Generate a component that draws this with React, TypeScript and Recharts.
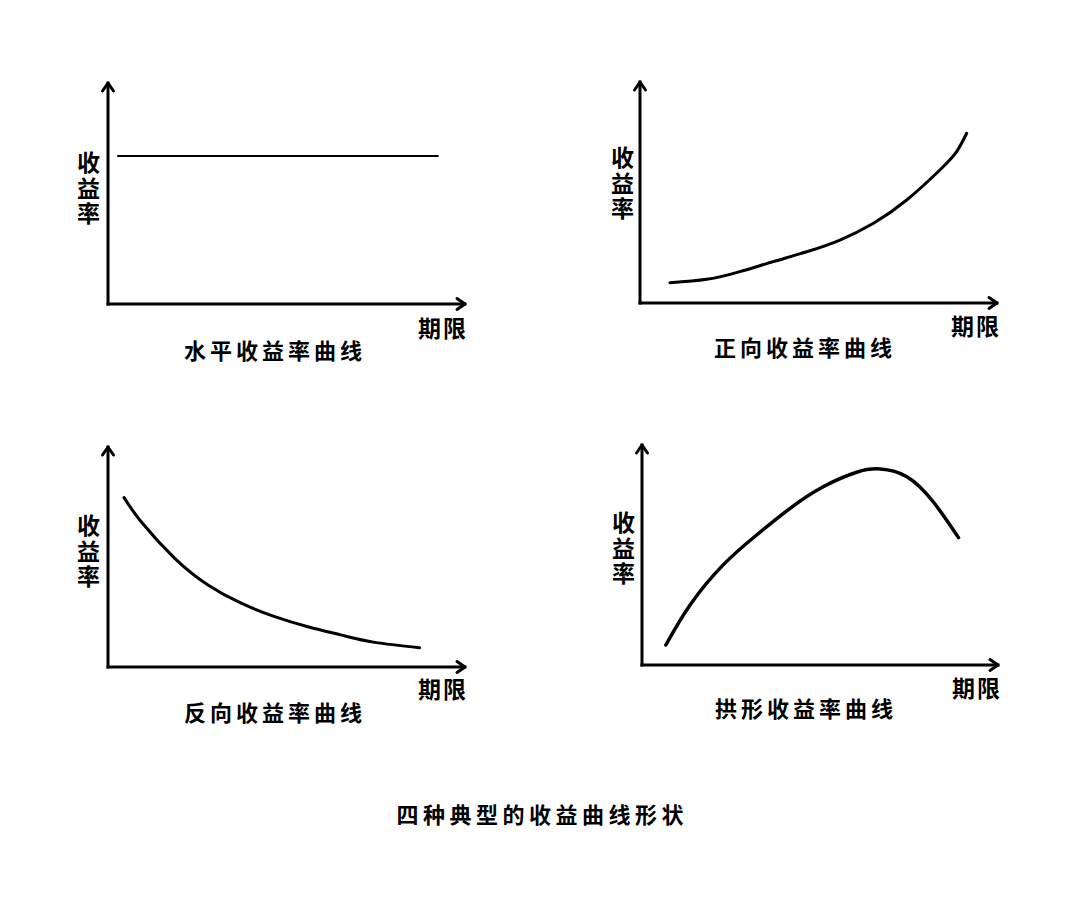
import { LineChart, Line, XAxis, YAxis, ReferenceLine } from "recharts"

// term positions (0-10 scale) and yields (0-10 scale)
const flatTerm = [0.28, 9.24]
const flatYield = [6.7, 6.7]

const normalTerm = [0.84, 1.87, 2.8, 3.73, 4.67, 5.6, 6.54, 7.47, 8.4, 8.87, 9.15]
const normalYield = [0.92, 1.07, 1.42, 1.87, 2.32, 2.85, 3.61, 4.66, 6.02, 6.85, 7.68]

const invertedTerm = [0.45, 0.93, 1.87, 2.8, 3.73, 4.67, 5.6, 6.54, 7.47, 8.73]
const invertedYield = [7.7, 6.6, 4.94, 3.73, 2.9, 2.29, 1.83, 1.45, 1.12, 0.88]

const humpedTerm = [0.67, 1.35, 2.28, 3.22, 4.16, 5.09, 6.03, 6.69, 7.44, 8.18, 8.89]
const humpedYield = [0.91, 2.73, 4.55, 5.91, 7.12, 8.1, 8.76, 8.91, 8.56, 7.42, 5.79]

const yLabel = "收益率"
const xLabel = "期限"
const titles = ["水平收益率曲线", "正向收益率曲线", "反向收益率曲线", "拱形收益率曲线"]
const mainTitle = "四种典型的收益曲线形状"

const font = '"Noto Sans CJK SC", "Noto Sans", sans-serif'

const toRows = (xs: number[], ys: number[]) => xs.map((x, i) => ({ term: x, yield: ys[i] }))

function ArrowLine(props: any) {
  const { x1, y1, x2, y2 } = props
  const dx = x2 - x1
  const dy = y2 - y1
  const len = Math.sqrt(dx * dx + dy * dy) || 1
  const ux = dx / len
  const uy = dy / len
  const a = 8
  const w = 5.5
  const bx = x2 - ux * a
  const by = y2 - uy * a
  const p1 = `${bx - uy * w},${by + ux * w}`
  const p2 = `${bx + uy * w},${by - ux * w}`
  return (
    <g>
      <line x1={x1} y1={y1} x2={x2} y2={y2} stroke="#000" strokeWidth={3} strokeLinecap="square" />
      <polyline
        points={`${p1} ${x2},${y2} ${p2}`}
        fill="none"
        stroke="#000"
        strokeWidth={3}
        strokeLinecap="round"
        strokeLinejoin="round"
      />
    </g>
  )
}

type PanelProps = {
  left: number
  top: number
  plotW: number
  plotH: number
  rows: { term: number; yield: number }[]
  lineWidth: number
}

function Panel({ left, top, plotW, plotH, rows, lineWidth }: PanelProps) {
  const m = { top: 8, left: 8, right: 10, bottom: 11 }
  return (
    <div style={{ position: "absolute", left: left - m.left, top: top - m.top }}>
      <LineChart width={plotW + m.left + m.right} height={plotH + m.top + m.bottom} data={rows} margin={m}>
        <XAxis type="number" dataKey="term" domain={[0, 10]} hide />
        <YAxis type="number" domain={[0, 10]} hide />
        <ReferenceLine
          segment={[{ x: 0, y: 0 }, { x: 10, y: 0 }]}
          ifOverflow="visible"
          shape={ArrowLine}
        />
        <ReferenceLine
          segment={[{ x: 0, y: 0 }, { x: 0, y: 10 }]}
          ifOverflow="visible"
          shape={ArrowLine}
        />
        <Line
          type="natural"
          dataKey="yield"
          stroke="#000"
          strokeWidth={lineWidth}
          strokeLinecap="round"
          dot={false}
          activeDot={false}
          isAnimationActive={false}
        />
      </LineChart>
    </div>
  )
}

// vertical "收益率" label; cx/cy = centre of the first character
function VLabel({ cx, cy }: { cx: number; cy: number }) {
  const size = 23
  return (
    <div
      style={{
        position: "absolute",
        left: cx - size / 2,
        top: cy - size / 2,
        width: size,
        writingMode: "vertical-rl",
        textOrientation: "upright",
        fontFamily: font,
        fontWeight: 700,
        fontSize: size,
        lineHeight: `${size}px`,
        letterSpacing: 2.5,
        color: "#000",
        whiteSpace: "nowrap",
      }}
    >
      {yLabel}
    </div>
  )
}

function Text({ cx, cy, text, size, spacing }: { cx: number; cy: number; text: string; size: number; spacing: number }) {
  return (
    <div
      style={{
        position: "absolute",
        left: cx - 200,
        top: cy - size * 0.7,
        width: 400,
        height: size * 1.4,
        lineHeight: `${size * 1.4}px`,
        textAlign: "center",
        fontFamily: font,
        fontWeight: 700,
        fontSize: size,
        letterSpacing: spacing,
        paddingLeft: spacing,
        boxSizing: "border-box",
        color: "#000",
        whiteSpace: "nowrap",
      }}
    >
      {text}
    </div>
  )
}

export default function App() {
  return (
    <div style={{ position: "absolute", left: 0, top: 0, width: 1080, height: 910, background: "#fff" }}>
      <Panel left={108} top={83} plotW={357} plotH={221} rows={toRows(flatTerm, flatYield)} lineWidth={2} />
      <Panel left={640} top={82} plotW={357} plotH={221} rows={toRows(normalTerm, normalYield)} lineWidth={3} />
      <Panel left={108} top={447} plotW={357} plotH={220} rows={toRows(invertedTerm, invertedYield)} lineWidth={3} />
      <Panel left={642} top={445} plotW={356} plotH={220} rows={toRows(humpedTerm, humpedYield)} lineWidth={3.5} />

      <VLabel cx={88} cy={162} />
      <VLabel cx={622} cy={157} />
      <VLabel cx={88} cy={525} />
      <VLabel cx={623} cy={522} />

      <Text cx={442} cy={327} text={xLabel} size={23} spacing={2} />
      <Text cx={975} cy={325} text={xLabel} size={23} spacing={2} />
      <Text cx={442} cy={688} text={xLabel} size={23} spacing={2} />
      <Text cx={976} cy={687} text={xLabel} size={23} spacing={2} />

      <Text cx={273} cy={349} text={titles[0]} size={22} spacing={4} />
      <Text cx={803} cy={346} text={titles[1]} size={22} spacing={4} />
      <Text cx={273} cy={711} text={titles[2]} size={22} spacing={4} />
      <Text cx={804} cy={707} text={titles[3]} size={22} spacing={4} />

      <Text cx={540} cy={813} text={mainTitle} size={22} spacing={4.5} />
    </div>
  )
}
